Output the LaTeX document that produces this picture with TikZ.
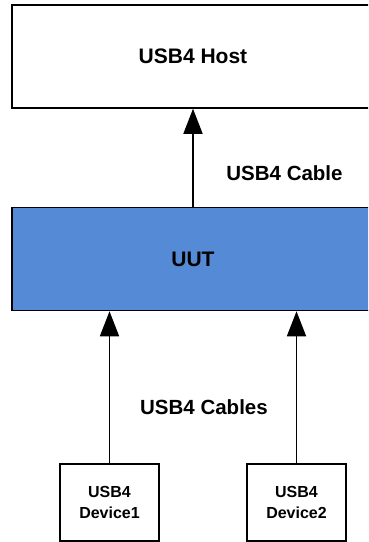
\documentclass[tikz,border=0pt]{standalone}
\usepackage{fontspec}
\setmainfont{Liberation Sans}
\usetikzlibrary{arrows.meta}
\usetikzlibrary{positioning}
\definecolor{uutblue}{RGB}{85,138,214}

\begin{document}
\begin{tikzpicture}[x=1pt,y=-1pt]
			\tikzset{box/.style = {shape=rectangle,draw,line width=1.5pt,
					inner sep = 0pt,font=\bfseries}}
			\tikzset{bigbox/.style = {box,minimum width=362pt,
					minimum height=103pt,font=\bfseries\fontsize{21}{25}\selectfont}}
			\tikzset{devbox/.style = {box,minimum width=99pt,
					minimum height=77pt,align=center,
					font=\bfseries\fontsize{16}{21}\selectfont}}
			\tikzset{edge/.style = {-{Triangle[length=25pt,width=19pt]},line width=1.6pt}}
			\tikzset{cablelabel/.style = {font=\bfseries\fontsize{20.5}{24}\selectfont}}

		\useasboundingbox (0,0) rectangle (368,542);
		\clip (0,0) rectangle (368,542);

		% boxes
		\node[bigbox] (host) at (193,56.5) {USB4 Host};
		\node[bigbox, fill=uutblue] (uut) at (193,259) {UUT};
		\node[devbox] (devA) at (109.5,502.5) {USB4\\Device1};
		\node[devbox] (devB) at (296.5,502.5) {USB4\\Device2};

		% labels
		\node[cablelabel] (cable) at (284.5,173) {USB4 Cable};
		\node[cablelabel] (cables) at (204,407) {USB4 Cables};

		%edges
		\draw[edge] (uut) to (host);
		\draw[edge] (devA) to (devA |- uut.south);
		\draw[edge] (devB) to (devB |- uut.south);

\end{tikzpicture}
\end{document}
